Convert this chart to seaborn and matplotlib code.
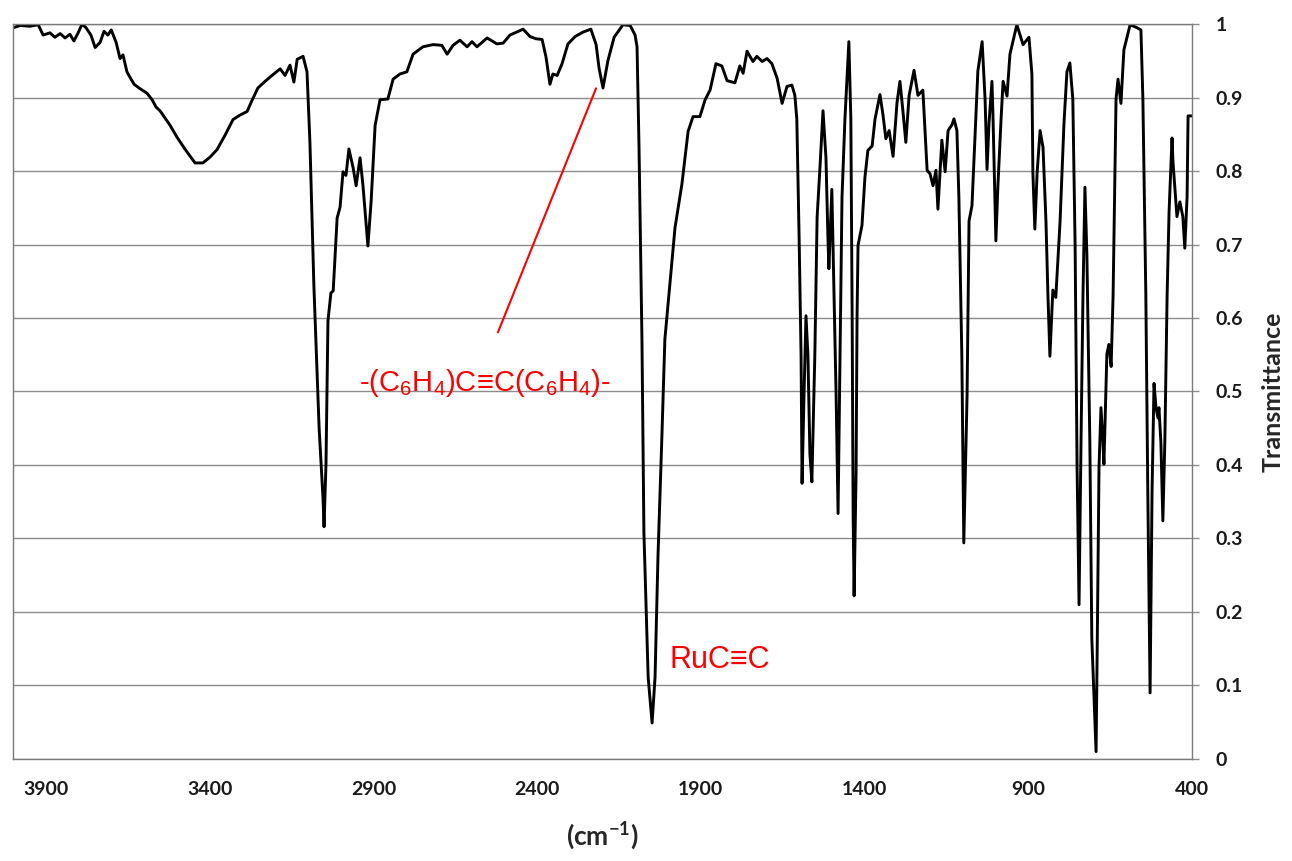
import numpy as np
import pandas as pd
import seaborn as sns
import matplotlib.pyplot as plt
from matplotlib.ticker import FuncFormatter

# IR spectrum (wavenumber in cm-1, transmittance)
wavenumber = [
    4000, 3979, 3949, 3924, 3909, 3888, 3873, 3857, 3842, 3827, 3815, 3802, 3790, 3778,
    3763, 3750, 3735, 3723, 3711, 3701, 3686, 3674, 3665, 3653, 3643, 3631, 3613, 3592,
    3576, 3564, 3552, 3521, 3500, 3476, 3445, 3421, 3399, 3378, 3353, 3329, 3308, 3286,
    3271, 3253, 3231, 3210, 3185, 3170, 3155, 3143, 3133, 3115, 3103, 3094, 3082, 3066,
    3054, 3051, 3045, 3039, 3030, 3023, 3011, 3002, 2993, 2984, 2975, 2962, 2953, 2941,
    2932, 2917, 2907, 2895, 2880, 2856, 2840, 2819, 2798, 2779, 2749, 2718, 2691, 2675,
    2657, 2636, 2614, 2599, 2584, 2553, 2523, 2504, 2483, 2443, 2422, 2404, 2385, 2373,
    2361, 2352, 2339, 2324, 2306, 2284, 2260, 2236, 2220, 2211, 2199, 2184, 2165, 2138,
    2116, 2101, 2095, 2089, 2080, 2074, 2061, 2049, 2040, 2031, 2019, 2010, 1994, 1979,
    1958, 1939, 1924, 1903, 1887, 1872, 1854, 1836, 1820, 1796, 1781, 1771, 1759, 1741,
    1729, 1713, 1698, 1683, 1667, 1652, 1637, 1622, 1613, 1607, 1600, 1594, 1591, 1585,
    1579, 1573, 1567, 1561, 1552, 1545, 1536, 1527, 1518, 1512, 1509, 1500, 1497, 1487,
    1481, 1475, 1469, 1460, 1454, 1448, 1442, 1438, 1435, 1432, 1426, 1423, 1420, 1408,
    1399, 1390, 1377, 1368, 1353, 1344, 1335, 1325, 1313, 1301, 1292, 1283, 1274, 1264,
    1249, 1237, 1222, 1209, 1200, 1191, 1182, 1176, 1164, 1154, 1145, 1133, 1127, 1118,
    1112, 1103, 1097, 1087, 1081, 1072, 1063, 1054, 1041, 1032, 1026, 1020, 1011, 1008,
    999, 993, 983, 977, 965, 956, 935, 916, 898, 889, 886, 880, 873, 864,
    855, 846, 840, 834, 825, 816, 803, 791, 782, 773, 764, 757, 751, 745,
    739, 733, 727, 721, 712, 706, 693, 690, 684, 678, 672, 669, 660, 654,
    647, 641, 632, 626, 617, 608, 589, 568, 556, 550, 541, 535, 528, 522,
    516, 510, 504, 501, 495, 489, 483, 476, 470, 461, 458, 446, 437, 428,
    422, 415, 412, 400,
]
transmittance = [
    0.995, 0.998, 0.997, 0.999, 0.985, 0.988, 0.982, 0.987, 0.981, 0.986, 0.977, 0.988, 1.000, 0.995,
    0.985, 0.968, 0.975, 0.990, 0.985, 0.992, 0.975, 0.953, 0.958, 0.935, 0.927, 0.918, 0.912, 0.906,
    0.897, 0.887, 0.882, 0.862, 0.846, 0.830, 0.811, 0.811, 0.819, 0.829, 0.849, 0.870, 0.876, 0.881,
    0.896, 0.913, 0.922, 0.930, 0.939, 0.930, 0.944, 0.921, 0.952, 0.956, 0.935, 0.838, 0.644, 0.450,
    0.354, 0.316, 0.402, 0.596, 0.634, 0.637, 0.736, 0.751, 0.799, 0.794, 0.830, 0.804, 0.780, 0.818,
    0.780, 0.698, 0.760, 0.862, 0.897, 0.898, 0.925, 0.932, 0.935, 0.959, 0.969, 0.972, 0.971, 0.959,
    0.971, 0.978, 0.969, 0.976, 0.969, 0.981, 0.973, 0.974, 0.985, 0.993, 0.983, 0.980, 0.979, 0.955,
    0.918, 0.932, 0.930, 0.946, 0.973, 0.983, 0.989, 0.993, 0.972, 0.940, 0.913, 0.950, 0.982, 0.999,
    0.998, 0.985, 0.969, 0.834, 0.571, 0.308, 0.111, 0.049, 0.111, 0.276, 0.440, 0.571, 0.650, 0.723,
    0.782, 0.854, 0.874, 0.874, 0.897, 0.910, 0.946, 0.943, 0.923, 0.920, 0.943, 0.933, 0.963, 0.949,
    0.956, 0.949, 0.953, 0.946, 0.926, 0.892, 0.915, 0.917, 0.903, 0.871, 0.710, 0.549, 0.375, 0.495,
    0.603, 0.549, 0.415, 0.377, 0.549, 0.737, 0.807, 0.882, 0.818, 0.710, 0.667, 0.775, 0.710, 0.495,
    0.334, 0.549, 0.764, 0.871, 0.925, 0.976, 0.871, 0.603, 0.334, 0.222, 0.388, 0.603, 0.699, 0.726,
    0.791, 0.828, 0.834, 0.871, 0.904, 0.877, 0.844, 0.855, 0.820, 0.893, 0.922, 0.882, 0.839, 0.903,
    0.937, 0.903, 0.910, 0.801, 0.796, 0.780, 0.801, 0.748, 0.842, 0.799, 0.855, 0.863, 0.871, 0.855,
    0.764, 0.549, 0.294, 0.495, 0.732, 0.753, 0.844, 0.936, 0.976, 0.898, 0.802, 0.865, 0.922, 0.878,
    0.705, 0.778, 0.872, 0.922, 0.902, 0.959, 0.999, 0.972, 0.982, 0.932, 0.798, 0.721, 0.798, 0.855,
    0.832, 0.731, 0.631, 0.548, 0.638, 0.628, 0.731, 0.865, 0.935, 0.947, 0.898, 0.698, 0.397, 0.210,
    0.431, 0.631, 0.778, 0.685, 0.431, 0.164, 0.010, 0.130, 0.397, 0.478, 0.431, 0.401, 0.551, 0.564,
    0.534, 0.631, 0.898, 0.925, 0.892, 0.965, 0.999, 0.995, 0.992, 0.898, 0.631, 0.364, 0.090, 0.364,
    0.511, 0.478, 0.464, 0.478, 0.431, 0.324, 0.431, 0.631, 0.745, 0.845, 0.812, 0.738, 0.758, 0.738,
    0.695, 0.765, 0.875, 0.875,
]

# annotation anchors (data coords)
label_alkyne = "-(C$_6$H$_4$)C≡C(C$_6$H$_4$)-"
alkyne_line_start = (2523, 0.577)
alkyne_line_end = (2217, 0.916)
alkyne_text_pos = (2561, 0.512)
label_ruc = "RuC≡C"
ruc_text_pos = (1842, 0.135)

df = pd.DataFrame({"wn": wavenumber, "T": transmittance})

sns.set_style("white")
plt.rcParams['font.family'] = ['Lato', 'DejaVu Sans']
plt.rcParams['mathtext.default'] = 'regular'

fig = plt.figure(figsize=(12.92, 8.61), dpi=100)
ax = fig.add_axes([0.0098, 0.1185, 0.9128, 0.8536])

sns.lineplot(data=df, x="wn", y="T", sort=False, estimator=None,
             color="black", linewidth=2.1, ax=ax)

ax.set_xlim(4002, 400)
ax.set_ylim(0, 1)
ax.set_xticks(np.arange(3900, 399, -500))
ax.set_yticks(np.arange(0, 1.01, 0.1))
ax.yaxis.set_major_formatter(FuncFormatter(lambda v, p: f"{v:g}"))
ax.yaxis.tick_right()
ax.yaxis.set_label_position("right")

ax.grid(axis="y", color="#8c8c8c", linewidth=1)
ax.grid(axis="x", visible=False)
for s in ax.spines.values():
    s.set_color("#7a7a7a")
    s.set_linewidth(1)

ax.tick_params(axis="x", direction="out", length=6, width=1, color="#8c8c8c",
               pad=10, labelsize=14, labelcolor="#1a1a1a")
ax.tick_params(axis="y", direction="out", length=5, width=1, color="#8c8c8c",
               pad=12, labelsize=14, labelcolor="#1a1a1a", right=True, left=False)
for lab in ax.get_xticklabels() + ax.get_yticklabels():
    lab.set_fontweight("bold")

ax.set_xlabel("(cm$^{-1}$)", fontsize=19, fontweight="bold", labelpad=16)
ax.set_ylabel("Transmittance", fontsize=18, fontweight="bold", labelpad=13)

ax.annotate("", xy=alkyne_line_end, xytext=alkyne_line_start,
            arrowprops=dict(arrowstyle="-", color="red", linewidth=1.5))
ax.text(*alkyne_text_pos, label_alkyne, color="red", fontsize=21,
        ha="center", va="center", family=["Liberation Sans", "DejaVu Sans"])
ax.text(*ruc_text_pos, label_ruc, color="red", fontsize=22,
        ha="center", va="center", family=["Liberation Sans", "DejaVu Sans"])

fig.savefig("out.png", dpi=100)
